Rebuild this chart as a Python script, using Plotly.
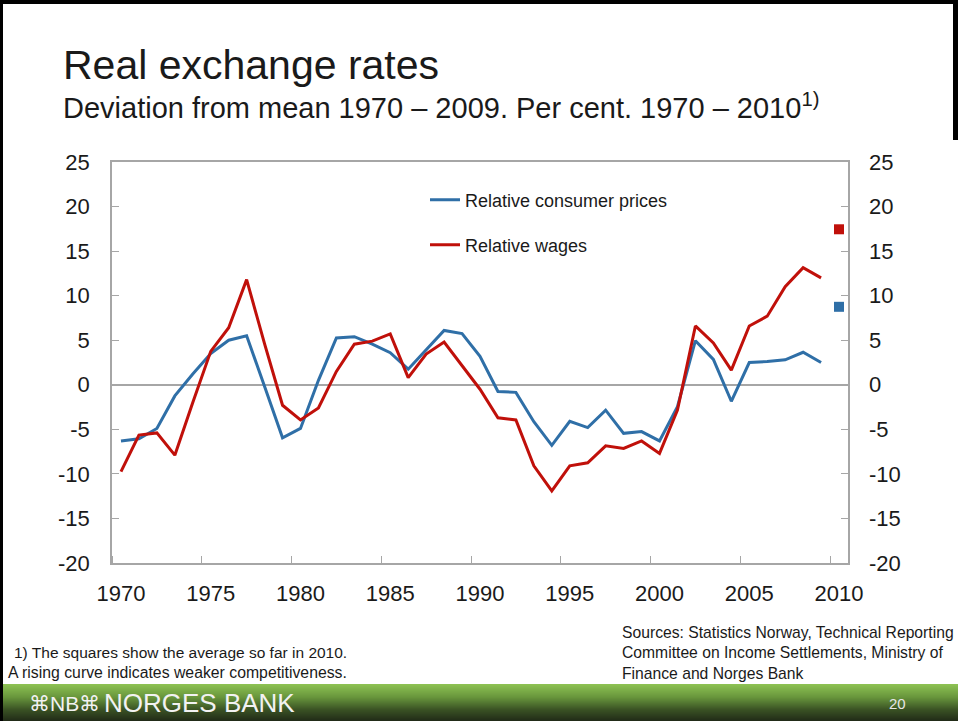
import plotly.graph_objects as go

# ---------------- data ----------------
years = list(range(1970, 2010))
consumer_prices = [-6.3, -6.05, -4.9, -1.25, 1.2, 3.5, 5.0, 5.5, -0.2, -5.95,
                   -4.9, 0.5, 5.25, 5.4, 4.55, 3.6, 1.75, 3.9, 6.1, 5.75,
                   3.2, -0.75, -0.85, -4.15, -6.8, -4.1, -4.8, -2.85, -5.45, -5.25,
                   -6.3, -2.45, 4.95, 2.85, -1.85, 2.5, 2.6, 2.8, 3.65, 2.5]
wages = [-9.75, -5.65, -5.4, -7.9, -2.0, 3.75, 6.4, 11.8, 4.6, -2.3,
         -3.95, -2.6, 1.5, 4.55, 4.9, 5.7, 0.8, 3.45, 4.8, 2.2,
         -0.5, -3.7, -3.95, -9.1, -11.9, -9.1, -8.75, -6.85, -7.15, -6.3,
         -7.7, -2.85, 6.6, 4.7, 1.65, 6.6, 7.7, 11.0, 13.15, 12.0]
avg_year = [2010]
avg_consumer_prices = [8.75]
avg_wages = [17.45]
x_tick_labels = [1970, 1975, 1980, 1985, 1990, 1995, 2000, 2005, 2010]
y_tick_values = [-20, -15, -10, -5, 0, 5, 10, 15, 20, 25]
y_tick_labels = ["-20", "-15", "-10", "-5", "0", "5", "10", "15", "20", "25"]

BLUE = "#2f6fa7"
RED = "#c0100a"
AXIS = "#a6a6a6"
TXT = "#1a1a1a"
FONT = "Liberation Sans"

# ---------------- geometry helpers (pixels -> paper) ----------------
W, H = 958, 721
L, R, T, B = 112, 848, 162, 563


def px(x):
    return (x - L) / (R - L)


def py(y):
    return (B - y) / (B - T)


fig = go.Figure()
fig.add_trace(go.Scatter(x=years, y=consumer_prices, mode="lines",
                         name="Relative consumer prices",
                         line=dict(color=BLUE, width=3), legend="legend"))
fig.add_trace(go.Scatter(x=years, y=wages, mode="lines",
                         name="Relative wages",
                         line=dict(color=RED, width=3), legend="legend2"))
fig.add_trace(go.Scatter(x=avg_year, y=avg_consumer_prices, mode="markers",
                         marker=dict(symbol="square", size=10, color=BLUE),
                         showlegend=False, yaxis="y2"))
fig.add_trace(go.Scatter(x=avg_year, y=avg_wages, mode="markers",
                         marker=dict(symbol="square", size=10, color=RED),
                         showlegend=False, yaxis="y2"))

shapes = []
# green footer bar (vertical gradient made of thin strips)
stops = [(0.0, (141, 193, 83)), (0.35, (104, 150, 60)), (0.7, (58, 82, 36)), (1.0, (34, 44, 24))]


def col(t):
    for (t0, c0), (t1, c1) in zip(stops[:-1], stops[1:]):
        if t0 <= t <= t1:
            f = (t - t0) / (t1 - t0)
            return "rgb(%d,%d,%d)" % tuple(round(a + (b - a) * f) for a, b in zip(c0, c1))
    return "rgb(%d,%d,%d)" % stops[-1][1]


bar_top, bar_bot = 684, 721
n = bar_bot - bar_top
for i in range(n):
    shapes.append(dict(type="rect", xref="paper", yref="paper",
                       x0=px(0), x1=px(W), y0=py(bar_top + i), y1=py(bar_top + i + 1.2),
                       fillcolor=col(i / (n - 1)), line=dict(width=0), layer="below"))
# black slide frame
shapes.append(dict(type="rect", xref="paper", yref="paper", x0=px(0), x1=px(W),
                   y0=py(0), y1=py(4), fillcolor="black", line=dict(width=0)))
shapes.append(dict(type="rect", xref="paper", yref="paper", x0=px(0), x1=px(3),
                   y0=py(0), y1=py(H), fillcolor="black", line=dict(width=0)))
shapes.append(dict(type="rect", xref="paper", yref="paper", x0=px(953), x1=px(W),
                   y0=py(0), y1=py(140), fillcolor="black", line=dict(width=0)))

annotations = [
    dict(text="Real exchange rates", x=px(61), y=py(65), xref="paper", yref="paper",
         xanchor="left", yanchor="middle", showarrow=False,
         font=dict(family=FONT, size=41, color=TXT)),
    dict(text="Deviation from mean 1970 – 2009. Per cent. 1970 – 2010<sup>1)</sup>",
         x=px(61), y=py(106), xref="paper", yref="paper",
         xanchor="left", yanchor="middle", showarrow=False,
         font=dict(family=FONT, size=29, color=TXT)),
    dict(text="1) The squares show the average so far in 2010.", x=px(12), y=py(652),
         xref="paper", yref="paper", xanchor="left", yanchor="middle", showarrow=False,
         font=dict(family=FONT, size=15.5, color=TXT)),
    dict(text="A rising curve indicates weaker competitiveness.", x=px(6), y=py(672),
         xref="paper", yref="paper", xanchor="left", yanchor="middle", showarrow=False,
         font=dict(family=FONT, size=15.8, color=TXT)),
    dict(text="Sources: Statistics Norway, Technical Reporting<br>Committee on Income Settlements, Ministry of<br>Finance and Norges Bank",
         x=px(620), y=py(653), xref="paper", yref="paper", xanchor="left", yanchor="middle",
         align="left", showarrow=False, font=dict(family=FONT, size=15.7, color=TXT)),
    dict(text="⌘NB⌘", x=px(27), y=py(703), xref="paper", yref="paper", xanchor="left",
         yanchor="middle", showarrow=False, font=dict(family=FONT, size=21, color="#f2f2f2")),
    dict(text="NORGES BANK", x=px(102), y=py(703), xref="paper", yref="paper", xanchor="left",
         yanchor="middle", showarrow=False, font=dict(family=FONT, size=26, color="#f2f2f2")),
    dict(text="20", x=px(897), y=py(703), xref="paper", yref="paper", xanchor="center",
         yanchor="middle", showarrow=False, font=dict(family=FONT, size=15, color="#e6e6e6")),
]

fig.update_layout(
    width=W, height=H, margin=dict(l=L, r=W - R, t=T, b=H - B),
    paper_bgcolor="white", plot_bgcolor="white",
    font=dict(family=FONT, color=TXT),
    shapes=shapes, annotations=annotations,
    xaxis=dict(range=[1969.5, 2010.5], tickmode="array", tickvals=x_tick_labels,
               ticks="", showgrid=False, zeroline=False,
               showline=True, mirror=True, linecolor=AXIS, linewidth=1.5,
               tickfont=dict(size=22, color=TXT), ticklabelstandoff=10,
               minor=dict(tick0=1974.5, dtick=5, ticks="inside", ticklen=7,
                          tickcolor=AXIS, tickwidth=1.2, showgrid=False)),
    yaxis=dict(range=[-20, 25], tickmode="array", tickvals=y_tick_values, ticktext=y_tick_labels,
               ticks="inside", ticklen=7, tickcolor=AXIS, tickwidth=1.2,
               showgrid=False, zeroline=True, zerolinecolor=AXIS, zerolinewidth=1.5,
               showline=True, mirror="ticks", linecolor=AXIS, linewidth=1.5,
               tickfont=dict(size=22, color=TXT), ticklabelstandoff=16),
    yaxis2=dict(range=[-20, 25], overlaying="y", side="right", tickmode="array",
                tickvals=y_tick_values, ticktext=y_tick_labels, ticks="", showgrid=False,
                zeroline=False, showline=False, tickfont=dict(size=22, color=TXT),
                ticklabelstandoff=20),
    legend=dict(x=px(425), y=py(200), xanchor="left", yanchor="middle",
                bgcolor="rgba(0,0,0,0)", borderwidth=0,
                font=dict(size=18, color=TXT, family=FONT)),
    legend2=dict(x=px(425), y=py(245), xanchor="left", yanchor="middle",
                 bgcolor="rgba(0,0,0,0)", borderwidth=0,
                 font=dict(size=18, color=TXT, family=FONT)),
)

fig.write_html("out.html", config={"displayModeBar": False},
               post_script="document.body.style.margin='0';")
